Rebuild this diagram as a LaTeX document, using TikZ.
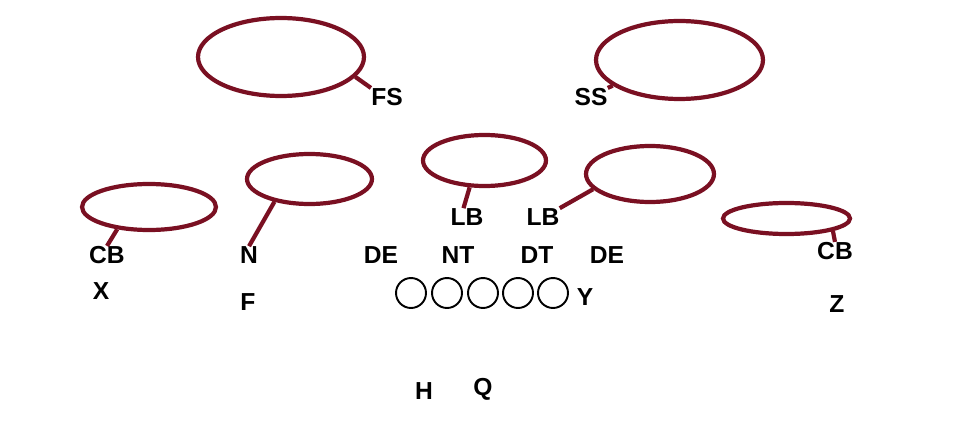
\documentclass[tikz,border=0pt]{standalone}
\usepackage{fontspec}
\setmainfont{Liberation Sans}
\usepackage{xcolor}
\usetikzlibrary{shapes.geometric,positioning}
\definecolor{maroon}{RGB}{122,16,34}

\begin{document}
\begin{tikzpicture}[x=0.02cm, y=-0.02cm,
    zone/.style={ellipse, draw=maroon, line width=2.4pt, inner sep=0pt},
    player/.style={font=\fontsize{14}{16}\selectfont\bfseries, inner sep=0pt},
    lineman/.style={circle, draw, line width=1.1pt, minimum size=0.6cm, inner sep=0pt}]

    \useasboundingbox (0,0) rectangle (960,429);

    % zones
    \node[zone, minimum width=3.32cm, minimum height=1.56cm] (fs) at (281,57) {};
    \node[zone, minimum width=3.34cm, minimum height=1.56cm] (ss) at (679.5,60) {};
    \node[zone, minimum width=2.5cm, minimum height=1cm] (nz) at (309.5,179) {};
    \node[zone, minimum width=2.68cm, minimum height=0.92cm] (cbl) at (149,207) {};
    \node[zone, minimum width=2.46cm, minimum height=1.02cm] (lbl) at (484.5,160.5) {};
    \node[zone, minimum width=2.56cm, minimum height=1.12cm] (lbr) at (650,174) {};
    \node[zone, minimum width=2.54cm, minimum height=0.62cm] (cbr) at (786.5,218.5) {};

    % defense
    \node[player] (fsname) at (387,97) {FS};
    \node[player] (ssname) at (591,97) {SS};
    \node[player] (nname) at (249,255) {N};
    \node[player] (cblname) at (107,255) {CB};
    \node[player] (lblname) at (467,217) {LB};
    \node[player] (lbrname) at (543,217) {LB};
    \node[player] (cbrname) at (835,251) {CB};
    \node[player] (del) at (381,255) {DE};
    \node[player] (nt) at (458,255) {NT};
    \node[player] (dt) at (537,255) {DT};
    \node[player] (der) at (607,255) {DE};

    % offense
    \foreach \x [count=\i] in {411,447,483,518,553}
        \node[lineman] (ol\i) at (\x,293) {};
    \node[player] (x) at (101,291) {X};
    \node[player] (f) at (248,302) {F};
    \node[player] (y) at (585,297) {Y};
    \node[player] (z) at (837,304) {Z};
    \node[player] (h) at (424,391) {H};
    \node[player] (q) at (483,389) {Q};

    \path[draw=maroon, line width=2.4pt]
        (fs.-15) edge (fsname.north west)
        (ss.201.5) edge (ssname.north east)
        (nz.213.7) edge (nname.north)
        (cbl.215) edge (cblname.north)
        (lbl.241) edge ([xshift=-2pt]lblname.north)
        (lbr.195.8) edge (lbrname.north east)
        (cbr.-15.5) edge (cbrname.north);

\end{tikzpicture}
\end{document}
